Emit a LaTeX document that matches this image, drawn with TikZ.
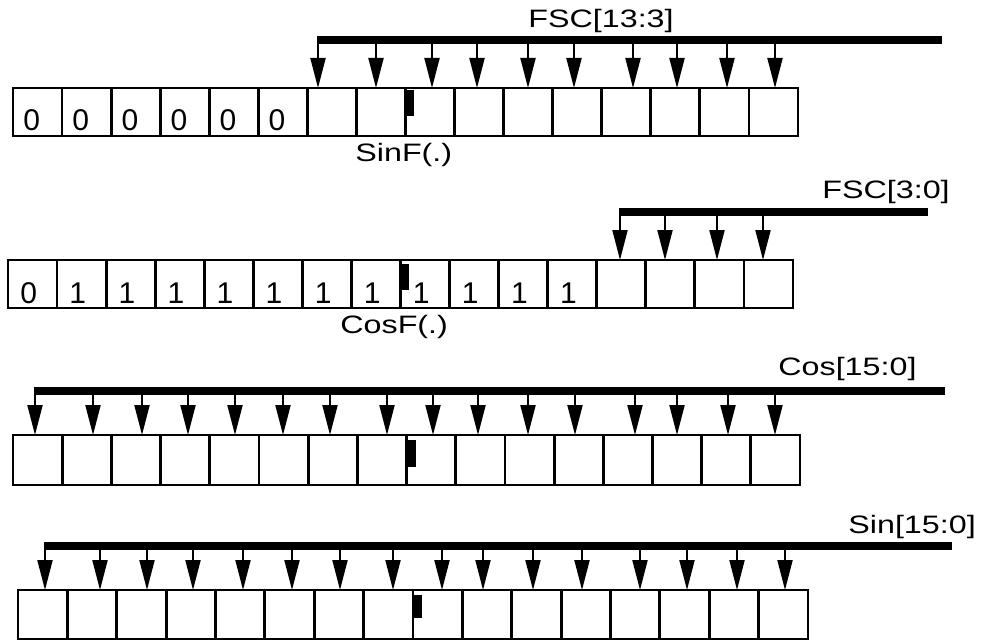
\documentclass[tikz,border=0pt]{standalone}
\usepackage{graphicx}
\usepackage{fontspec}
\setmainfont{Liberation Sans}
\usetikzlibrary{arrows.meta,calc}
\newcommand\widetxt[1]{\scalebox{1.28}[1]{#1}}
\begin{document}
\begin{tikzpicture}[x=0.5pt,y=-0.5pt,
  cell/.style={draw,line width=1.4pt,inner sep=0pt,outer sep=0pt,anchor=north west},
  lbl/.style={font=\fontsize{12.6}{14}\selectfont,inner sep=0pt,anchor=base west},
  digit/.style={font=\fontsize{15}{17}\selectfont,inner sep=0pt,anchor=base west},
  arr/.style={line width=1pt,-{Triangle[length=15pt,width=7.5pt]}},
  bus/.style={line width=4pt},
  pointmark/.style={fill=black}]
\useasboundingbox (0,0) rectangle (984,642);

% ---------- cells ----------
\foreach \i in {1,...,16}{
  \node[cell,minimum width=24.53pt,minimum height=24pt] (r1b\i) at ({13+(\i-1)*49.06},88) {};
  \node[cell,minimum width=24.53pt,minimum height=24pt] (r2b\i) at ({8+(\i-1)*49.06},260) {};
  \node[cell,minimum width=24.6pt,minimum height=25pt] (r3b\i) at ({13+(\i-1)*49.19},435) {};
  \node[cell,minimum width=24.69pt,minimum height=24.5pt] (r4b\i) at ({18+(\i-1)*49.375},590) {};
}

% ---------- digits ----------
\foreach \i in {1,...,6}{
  \node[digit] (d1n\i) at ($(r1b\i.south west)+(10,-6)$) {0};
}
\node[digit] (d2n1) at ($(r2b1.south west)+(12,-5)$) {0};
\foreach \i in {2,...,12}{
  \node[digit] (d2n\i) at ($(r2b\i.south west)+(12,-5)$) {1};
}

% ---------- binary point markers ----------
\fill[pointmark] ($(r1b9.north west)+(0,2)$) rectangle +(9,26);
\fill[pointmark] ($(r2b9.north west)+(0,4)$) rectangle +(9,26);
\fill[pointmark] ($(r3b9.north west)+(1,5)$) rectangle +(8,27);
\fill[pointmark] ($(r4b9.north west)+(1,5)$) rectangle +(8,23);

% ---------- row 1 bus ----------
\coordinate (bus1L) at (317,40);
\coordinate (bus1R) at (942,40);
\foreach \x/\b in {318/7,376/8,432/9,477/10,528/11,574/12,633/13,677/14,727/15,775/16}{
  \draw[arr] (\x,40) -- (\x,40 |- r1b\b.north);
}
\draw[bus] (bus1L) -- (bus1R);
\node[lbl] (l1) at (528,28) {\widetxt{FSC[13:3]}};
\node[lbl] (s1) at (355,161) {\widetxt{SinF(.)}};

% ---------- row 2 bus ----------
\coordinate (bus2L) at (619,212);
\coordinate (bus2R) at (928,212);
\foreach \x/\b in {620/13,665/14,717/15,763/16}{
  \draw[arr] (\x,212) -- (\x,212 |- r2b\b.north);
}
\draw[bus] (bus2L) -- (bus2R);
\node[lbl] (l2) at (822,198) {\widetxt{FSC[3:0]}};
\node[lbl] (s2) at (340,333) {\widetxt{CosF(.)}};

% ---------- row 3 bus ----------
\coordinate (bus3L) at (34,391);
\coordinate (bus3R) at (945,391);
\foreach \x/\b in {35/1,93/2,142/3,188/4,235/5,283/6,330/7,387/8,433/9,478/10,528/11,575/12,635/13,677/14,728/15,775/16}{
  \draw[arr] (\x,391) -- (\x,391 |- r3b\b.north);
}
\draw[bus] (bus3L) -- (bus3R);
\node[lbl] (l3) at (778,375) {\widetxt{Cos[15:0]}};

% ---------- row 4 bus ----------
\coordinate (bus4L) at (44,546);
\coordinate (bus4R) at (952,546);
\foreach \x/\b in {45/1,100/2,147/3,193/4,243/5,292/6,340/7,393/8,442/9,483/10,533/11,582/12,640/13,687/14,737/15,785/16}{
  \draw[arr] (\x,546) -- (\x,546 |- r4b\b.north);
}
\draw[bus] (bus4L) -- (bus4R);
\node[lbl] (l4) at (848,533) {\widetxt{Sin[15:0]}};
\end{tikzpicture}
\end{document}
